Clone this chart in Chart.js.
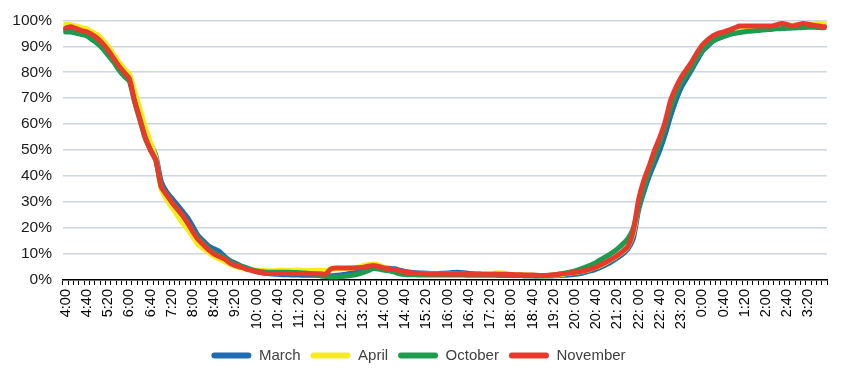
<!DOCTYPE html>
<html>
<head>
<meta charset="utf-8">
<script src="https://cdn.jsdelivr.net/npm/chart.js@4.4.1/dist/chart.umd.min.js"></script>
<style>
html,body{margin:0;padding:0;background:#fff;}
#wrap{width:850px;height:383px;position:relative;}
</style>
</head>
<body>
<div id="wrap"><canvas id="c"></canvas></div>
<script>
const times = [
"4:00","4:10","4:20","4:30","4:40","4:50","5:00","5:10","5:20","5:30","5:40","5:50",
"6:00","6:10","6:20","6:30","6:40","6:50","7:00","7:10","7:20","7:30","7:40","7:50",
"8:00","8:10","8:20","8:30","8:40","8:50","9:00","9:10","9:20","9:30","9:40","9:50",
"10: 00","10: 10","10: 20","10: 30","10: 40","10: 50","11: 00","11: 10","11: 20","11: 30","11: 40","11: 50",
"12: 00","12: 10","12: 20","12: 30","12: 40","12: 50","13: 00","13: 10","13: 20","13: 30","13: 40","13: 50",
"14: 00","14: 10","14: 20","14: 30","14: 40","14: 50","15: 00","15: 10","15: 20","15: 30","15: 40","15: 50",
"16: 00","16: 10","16: 20","16: 30","16: 40","16: 50","17: 00","17: 10","17: 20","17: 30","17: 40","17: 50",
"18: 00","18: 10","18: 20","18: 30","18: 40","18: 50","19: 00","19: 10","19: 20","19: 30","19: 40","19: 50",
"20: 00","20: 10","20: 20","20: 30","20: 40","20: 50","21: 00","21: 10","21: 20","21: 30","21: 40","21: 50",
"22: 00","22: 10","22: 20","22: 30","22: 40","22: 50","23: 00","23: 10","23: 20","23: 30","23: 40","23: 50",
"0:00","0:10","0:20","0:30","0:40","0:50","1:00","1:10","1:20","1:30","1:40","1:50",
"2:00","2:10","2:20","2:30","2:40","2:50","3:00","3:10","3:20","3:30","3:40","3:50"
];
const seriesNames = ["March","April","October","November"];

const march = [
96.5,96.5,96,95.5,95,94,92.5,90.5,88,85,82,79.5,
77.5,70,63.5,57,52.5,48,38,34,31.5,29,26.5,24,
20.5,17,15,13,12,11,9,7.5,6.5,5.5,4.8,4,
3.2,2.8,2.5,2.3,2.2,2,2,1.9,1.9,1.8,1.8,1.8,
1.7,1.6,1.6,1.8,2,2.3,2.7,3.2,3.6,4.2,4.6,4.7,
4.7,4.5,4.3,3.8,3.3,3,2.8,2.7,2.6,2.5,2.5,2.6,
2.7,2.9,3,2.8,2.5,2.4,2.3,2.2,2.1,2.1,2,1.9,
1.9,1.8,1.7,1.6,1.6,1.5,1.5,1.5,1.6,1.7,1.8,2,
2.2,2.5,3,3.5,4.2,5,6,7.2,8.5,10,12,16,
27,34,40,45,50,56,63,69,74,77.5,81,84.5,
88,90,92,93,93.8,94.5,95,95.5,96,96.2,96.5,96.7,
97,97.2,97.4,97.6,97.8,98,98.1,98.2,98.3,98.4,98.5,98.3
];
const april = [
98.5,98.3,97.8,97.2,96.8,95.5,94.5,92.5,90,87,84,81.5,
79.5,73,66,59,53,47,35,31,28,25,22,19.5,
16.5,13.5,12,10.5,9,8,7,6,5.2,4.7,4.3,4,
3.8,3.7,3.6,3.6,3.8,3.8,3.8,3.8,3.8,3.7,3.7,3.8,
3.8,3.6,4.1,4.3,4.4,4.5,4.6,4.9,5.5,6,6.2,5.8,
4.8,4,3.2,2.8,2.6,2.5,2.4,2.4,2.3,2.3,2.3,2.2,
2.2,2.2,2.2,2.2,2.1,2.1,2.2,2.3,2.5,2.7,2.8,2.5,
2.2,2.1,2,1.9,1.8,1.7,1.6,1.6,1.8,2,2.3,2.6,
2.9,3.2,3.6,4.2,4.9,5.8,6.8,8,9.3,10.8,12.8,18,
29,37,43,49,54.5,60,67.5,72.5,77,80,83,86.5,
89.5,91.5,93,94,94.5,95.2,95.8,96.3,96.6,96.8,97,97.2,
97.3,97.5,97.7,97.8,98,98.1,98.2,98.3,98.5,98.6,98.7,98.7
];
const october = [
95.5,95.5,95,94.5,94,92.5,91,89,86.5,84,81,78.5,
76.5,68.5,61.5,54.5,50,46,36,33,30,27.5,25,22,
19,16,14,12,10.5,9.5,8.5,7,6,5.3,4.6,4,
3.5,3.2,3,3,3,3,3,2.9,2.8,2.7,2.5,2.2,
1.6,1.3,1.2,1.2,1.3,1.5,1.8,2.2,2.8,3.6,4.4,4.2,
3.8,3.5,3,2.4,2.1,2,2,1.9,1.9,1.9,1.9,1.9,
1.9,1.9,1.9,1.9,1.8,1.8,1.8,1.8,1.8,1.8,1.7,1.7,
1.7,1.7,1.7,1.6,1.6,1.6,1.6,1.7,1.9,2.2,2.6,3,
3.5,4.2,5,5.8,6.8,8,9.2,10.5,12,13.8,16,20,
28,35.5,42,47.5,53,59,66,71.5,76,79,82,85.5,
88.5,90.5,92,93,93.8,94.5,95,95.3,95.6,95.8,96,96.2,
96.4,96.5,96.7,96.8,96.9,97,97.1,97.2,97.3,97.3,97.2,97.1
];
const november = [
97,97.5,96.8,96,95.6,94.5,93,91,88.5,85.5,82.5,80,
77.5,69,62,55,50,46,36,33,30,27.5,25,22,
18.5,15.5,13.5,11.5,10,9,8,6.5,5.5,5,4.2,3.7,
3.2,2.8,2.6,2.5,2.5,2.6,2.5,2.4,2.5,2.5,2.4,2.4,
2.4,2.2,4.3,4.6,4.6,4.6,4.6,4.7,4.8,5.3,5.6,5.2,
4.6,4.3,4,3.5,3,2.8,2.6,2.5,2.4,2.3,2.3,2.3,
2.3,2.2,2.3,2.3,2.2,2.2,2.3,2.2,2.2,2.3,2.2,2.2,
2.1,2,2,1.9,1.9,1.8,1.7,1.8,2,2.3,2.5,2.7,
3,3.3,3.7,4.3,5,6,7,8.2,9.5,11,13,19,
31,38.5,44,50,55,61,69,74,78,81,84,87.5,
90.5,92.5,94,95,95.5,96.2,97,97.8,97.8,97.8,97.8,97.8,
97.8,97.8,98.3,98.8,98.4,97.8,98.3,98.8,98.5,98,97.8,97.5
];
const yTicks = [0,10,20,30,40,50,60,70,80,90,100];

const colors = ["#1f6cb3","#f6ec1c","#1e9c4e","#e63b2c"];
const values = [march, april, october, november];

const datasets = seriesNames.map((n,i)=>({
  label:n,
  data:values[i],
  borderColor:colors[i],
  backgroundColor:colors[i],
  borderWidth:5,
  pointRadius:0,
  tension:0.2,
  borderJoinStyle:'round',
  borderCapStyle:'round',
  order:4-i
}));

new Chart(document.getElementById('c'),{
  type:'line',
  data:{labels:times,datasets:datasets},
  options:{
    responsive:true,
    maintainAspectRatio:false,
    animation:false,
    layout:{padding:{left:10,right:23,top:17,bottom:10}},
    plugins:{
      tooltip:{enabled:false},
      legend:{
        position:'bottom',
        labels:{
          boxWidth:40,
          boxHeight:6,
          padding:10,
          color:'#404040',
          font:{family:'Liberation Sans, Arial',size:15},
          useBorderRadius:true,
          borderRadius:3,
          generateLabels:(chart)=>chart.data.datasets.map((ds,i)=>({
            text:ds.label,fillStyle:ds.borderColor,strokeStyle:ds.borderColor,
            lineWidth:0,hidden:false,datasetIndex:i,borderRadius:3,fontColor:'#404040'
          }))
        }
      }
    },
    scales:{
      x:{
        offset:true,
        afterFit:(s)=>{s.height=58;},
        grid:{display:true,drawOnChartArea:false,drawTicks:true,tickLength:5,color:'#000',offset:true,tickWidth:1},
        border:{display:true,color:'#000',width:1.5},
        ticks:{
          autoSkip:false,maxRotation:90,minRotation:90,padding:4,
          color:'#000',font:{family:'Liberation Sans, Arial',size:14.5},
          callback:(v,i)=> i%4===0 ? times[i] : ''
        }
      },
      y:{
        min:0,max:100,
        afterFit:(s)=>{s.width=53;},
        afterBuildTicks:(s)=>{s.ticks=yTicks.map(v=>({value:v}));},
        grid:{color:'#cdd6df',lineWidth:1.5,drawTicks:false},
        border:{display:false},
        ticks:{
          padding:11,color:'#1a1a1a',font:{family:'Liberation Sans, Arial',size:15.5},
          callback:(v)=>v+'%'
        }
      }
    }
  }
});
</script>
</body>
</html>
